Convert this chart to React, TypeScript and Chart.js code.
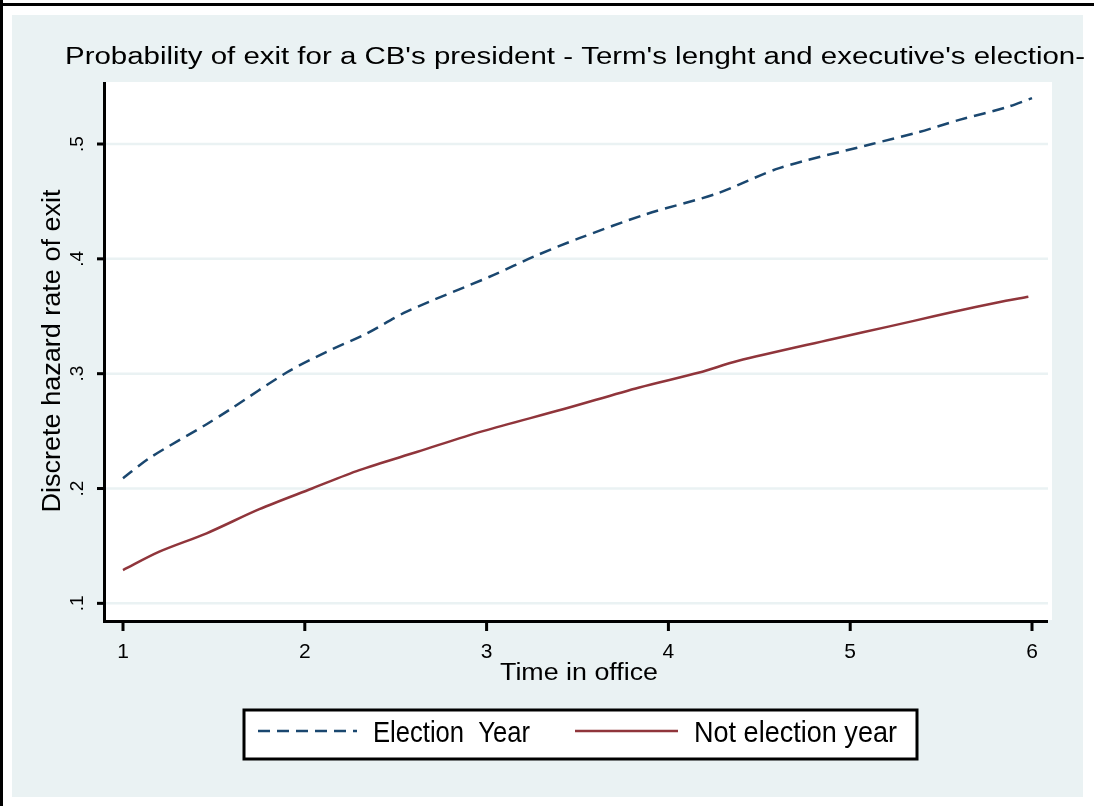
import React, { useEffect, useRef } from "react";
import { Chart, registerables } from "chart.js";

Chart.register(...registerables);

// ---- data ----
const xTicks = [1, 2, 3, 4, 5, 6];
const xTickLabels = ["1", "2", "3", "4", "5", "6"];
const yTicks = [0.1, 0.2, 0.3, 0.4, 0.5];
const yTickLabels = [".1", ".2", ".3", ".4", ".5"];

const electionTime = [1, 1.15, 1.46, 1.59, 1.9, 2.12, 2.34, 2.56, 3.04, 3.26, 3.51, 3.88, 4.27, 4.61, 5.12, 5.37, 5.6, 5.86, 6.0];
const electionYear = [0.209, 0.227, 0.256, 0.269, 0.301, 0.319, 0.335, 0.354, 0.386, 0.402, 0.418, 0.439, 0.457, 0.479, 0.5, 0.51, 0.521, 0.532, 0.54];

const notElectionTime = [1, 1.2, 1.46, 1.75, 2.04, 2.3, 2.62, 2.98, 3.42, 3.84, 4.17, 4.38, 4.9, 5.07, 5.35, 5.57, 5.81, 5.98];
const notElectionYear = [0.129, 0.145, 0.161, 0.182, 0.2, 0.216, 0.232, 0.25, 0.269, 0.288, 0.301, 0.311, 0.33, 0.336, 0.346, 0.354, 0.362, 0.367];

const seriesLabels = ["Election  Year", "Not election year"];
const titleText = "Probability of exit for a CB's president - Term's lenght and executive's election-";
const xTitle = "Time in office";
const yTitle = "Discrete hazard rate of exit";

const NAVY = "#1A476F";
const MAROON = "#90353B";
const BG = "#EAF2F3";
const FONT = '"Liberation Sans", Arial, sans-serif';

function fitText(
  ctx: CanvasRenderingContext2D,
  text: string,
  x: number,
  y: number,
  size: number,
  width: number,
  align: CanvasTextAlign,
  rotate = false
) {
  ctx.save();
  ctx.font = `${size}px ${FONT}`;
  const w = ctx.measureText(text).width;
  const s = width / w;
  ctx.translate(x, y);
  if (rotate) ctx.rotate(-Math.PI / 2);
  ctx.scale(s, 1);
  ctx.textAlign = align;
  ctx.textBaseline = "alphabetic";
  ctx.fillStyle = "#000";
  ctx.fillText(text, 0, 0);
  ctx.restore();
}

const stataPlugin = {
  id: "stataDecor",
  beforeDraw(chart: any) {
    const ctx: CanvasRenderingContext2D = chart.ctx;
    const ca = chart.chartArea;
    const y = chart.scales.y;
    ctx.save();
    ctx.fillStyle = "#fff";
    ctx.fillRect(0, 0, chart.width, chart.height);
    ctx.fillStyle = "#000";
    ctx.fillRect(0, 3, chart.width, 3);
    ctx.fillRect(0, 0, 3, chart.height);
    ctx.fillStyle = BG;
    ctx.fillRect(12, 15, 1071, 782);
    ctx.fillStyle = "#fff";
    ctx.fillRect(ca.left, ca.top, ca.right - ca.left, ca.bottom - ca.top);
    // grid lines
    ctx.strokeStyle = BG;
    ctx.lineWidth = 2.5;
    yTicks.forEach((v) => {
      const py = y.getPixelForValue(v);
      ctx.beginPath();
      ctx.moveTo(ca.left, py);
      ctx.lineTo(ca.right - 4, py);
      ctx.stroke();
    });
    ctx.restore();
  },
  afterDatasetsDraw(chart: any) {
    const ctx: CanvasRenderingContext2D = chart.ctx;
    const ca = chart.chartArea;
    const xs = chart.scales.x;
    const ys = chart.scales.y;
    ctx.save();
    ctx.fillStyle = "#000";
    // axes
    ctx.fillRect(ca.left - 2, ca.top, 3, ca.bottom - ca.top + 3);
    ctx.fillRect(ca.left - 2, ca.bottom, ca.right - 4 - (ca.left - 2), 3);
    // y ticks
    yTicks.forEach((v, i) => {
      const py = ys.getPixelForValue(v);
      ctx.fillRect(ca.left - 8, py - 1.5, 7, 3);
      ctx.save();
      ctx.translate(83, py);
      ctx.rotate(-Math.PI / 2);
      ctx.font = `19px ${FONT}`;
      ctx.textAlign = "center";
      ctx.textBaseline = "alphabetic";
      ctx.fillText(yTickLabels[i], 0, 0);
      ctx.restore();
    });
    // x ticks
    xTicks.forEach((v, i) => {
      const px = xs.getPixelForValue(v);
      ctx.fillRect(px - 1.5, ca.bottom + 3, 3, 8);
      ctx.font = `21px ${FONT}`;
      ctx.textAlign = "center";
      ctx.textBaseline = "alphabetic";
      ctx.fillText(xTickLabels[i], px, 658);
    });
    ctx.restore();

    // titles
    fitText(ctx, titleText, 65, 64, 23, 1020, "left");
    fitText(ctx, xTitle, 579, 680, 23, 158, "center");
    fitText(ctx, yTitle, 60, (ca.top + ca.bottom) / 2, 25, 323, "center", true);

    // legend
    ctx.save();
    ctx.fillStyle = "#fff";
    ctx.fillRect(244, 710, 673, 49);
    ctx.strokeStyle = "#000";
    ctx.lineWidth = 3;
    ctx.strokeRect(244, 710, 673, 49);
    const ds = chart.data.datasets;
    ctx.lineWidth = 2.5;
    ctx.strokeStyle = ds[0].borderColor;
    ctx.setLineDash(ds[0].borderDash);
    ctx.beginPath();
    ctx.moveTo(258, 731);
    ctx.lineTo(357, 731);
    ctx.stroke();
    ctx.setLineDash([]);
    ctx.strokeStyle = ds[1].borderColor;
    ctx.beginPath();
    ctx.moveTo(575, 731);
    ctx.lineTo(678, 731);
    ctx.stroke();
    ctx.restore();
    fitText(ctx, ds[0].label, 373, 742, 29, 157, "left");
    fitText(ctx, ds[1].label, 694, 742, 29, 203, "left");
  },
};

export default function App() {
  const ref = useRef<HTMLCanvasElement | null>(null);
  useEffect(() => {
    if (!ref.current) return;
    const chart = new Chart(ref.current, {
      type: "line",
      data: {
        datasets: [
          {
            label: seriesLabels[0],
            data: electionTime.map((x, i) => ({ x, y: electionYear[i] })),
            borderColor: NAVY,
            borderDash: [12, 7],
            borderWidth: 2.5,
            pointRadius: 0,
            tension: 0.3,
            fill: false,
          },
          {
            label: seriesLabels[1],
            data: notElectionTime.map((x, i) => ({ x, y: notElectionYear[i] })),
            borderColor: MAROON,
            borderWidth: 2.5,
            pointRadius: 0,
            tension: 0.3,
            fill: false,
          },
        ],
      },
      options: {
        responsive: false,
        animation: false,
        events: [],
        layout: { padding: { left: 105, top: 82, right: 42, bottom: 186 } },
        plugins: {
          legend: { display: false },
          title: { display: false },
          tooltip: { enabled: false },
        },
        scales: {
          x: { type: "linear", min: 0.901, max: 6.11, display: false },
          y: { type: "linear", min: 0.0855, max: 0.554, display: false },
        },
      },
      plugins: [stataPlugin],
    } as any);
    return () => chart.destroy();
  }, []);
  return (
    <canvas
      ref={ref}
      width={1094}
      height={806}
      style={{ position: "absolute", left: 0, top: 0, width: 1094, height: 806 }}
    />
  );
}
